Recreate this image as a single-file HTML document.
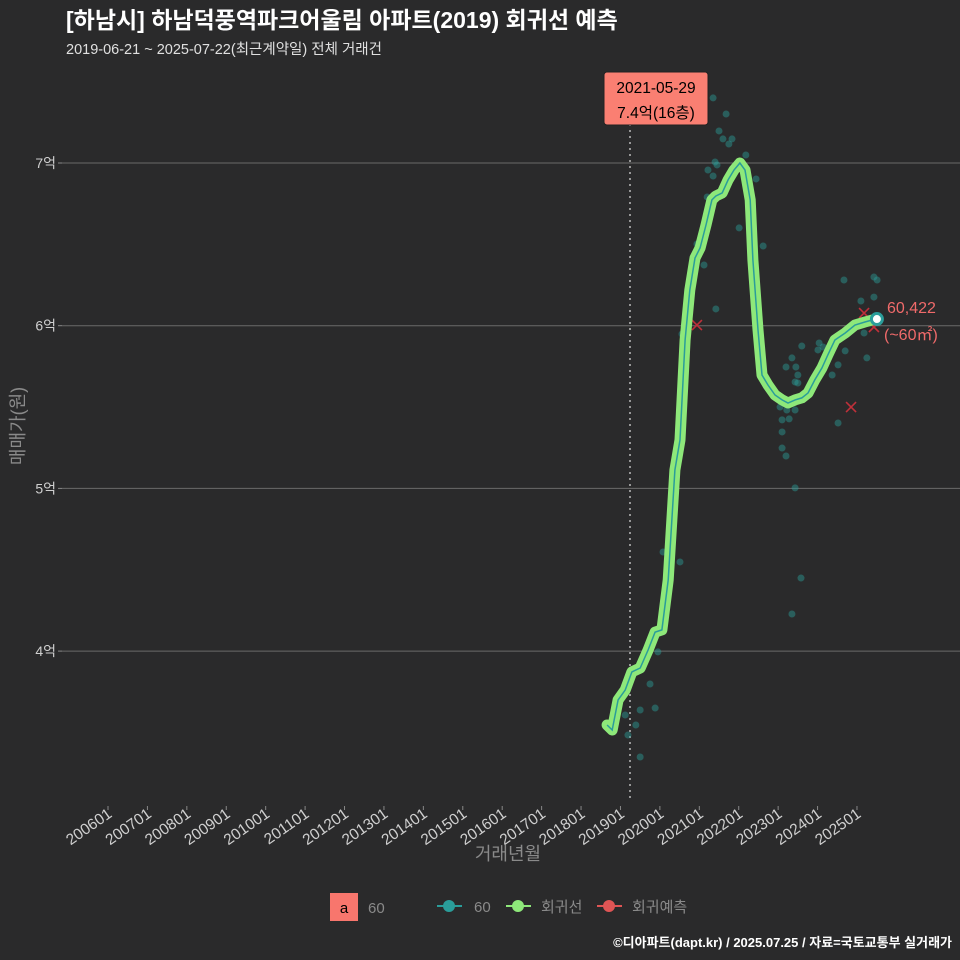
<!DOCTYPE html>
<html><head><meta charset="utf-8"><style>
html,body{margin:0;padding:0;background:#2a2a2b;overflow:hidden;}
svg{display:block;}
svg text{font-family:"Liberation Sans","Noto Sans CJK KR",sans-serif;}
</style></head><body>
<svg id="c" width="960" height="960" viewBox="0 0 960 960" xmlns="http://www.w3.org/2000/svg">
<rect width="960" height="960" fill="#2a2a2b"/>
<text x="66" y="28" font-size="23" font-weight="bold" fill="#fff">[하남시] 하남덕풍역파크어울림 아파트(2019) 회귀선 예측</text>
<text x="66" y="54" font-size="14.5" fill="#e0e0e0">2019-06-21 ~ 2025-07-22(최근계약일) 전체 거래건</text>
<g id="grid"></g><g id="pts"></g><g id="line"></g><g id="ann"></g><g id="axes"></g>
<text x="24" y="426" font-size="18" fill="#8a8a8a" text-anchor="middle" transform="rotate(-90 24 426)">매매가(원)</text>
<text x="508" y="860" font-size="18" fill="#8a8a8a" text-anchor="middle">거래년월</text>
<g>
<rect x="330" y="893" width="28" height="28" fill="#f8766d"/>
<text x="344" y="913" font-size="15" fill="#000" text-anchor="middle">a</text>
<text x="368" y="913" font-size="15" fill="#8a8a8a">60</text>
<line x1="437" y1="906" x2="462" y2="906" stroke="#2a9d9a" stroke-width="2"/><circle cx="449" cy="906" r="6" fill="#2a9d9a"/>
<text x="474" y="912" font-size="15" fill="#8a8a8a">60</text>
<line x1="506" y1="906" x2="531" y2="906" stroke="#8ee87a" stroke-width="2"/><circle cx="518" cy="906" r="6" fill="#8ee87a"/>
<text x="541" y="912" font-size="15" fill="#8a8a8a">회귀선</text>
<line x1="597" y1="906" x2="622" y2="906" stroke="#e05555" stroke-width="2"/><circle cx="609" cy="906" r="6" fill="#e05555"/>
<text x="632" y="912" font-size="15" fill="#8a8a8a">회귀예측</text>
</g>
<text x="952" y="947" font-size="13" font-weight="bold" fill="#fff" text-anchor="end">©디아파트(dapt.kr) / 2025.07.25 / 자료=국토교통부 실거래가</text>
</svg>
<script>
const xTicks=["200601","200701","200801","200901","201001","201101","201201","201301","201401","201501","201601","201701","201801","201901","202001","202101","202201","202301","202401","202501"];
const yTicks=[40000,50000,60000,70000];
const yTickLabels=["4억","5억","6억","7억"];
const lineT=[2018.66,2018.79,2018.94,2019.12,2019.29,2019.50,2019.70,2019.88,2020.05,2020.21,2020.38,2020.51,2020.64,2020.76,2020.89,2021.02,2021.17,2021.32,2021.42,2021.58,2021.73,2021.88,2022.03,2022.16,2022.29,2022.36,2022.49,2022.59,2022.74,2022.92,2023.10,2023.25,2023.43,2023.60,2023.76,2023.93,2024.11,2024.26,2024.44,2024.70,2024.95,2025.20,2025.48];
const lineV=[35460,35150,37000,37610,38720,38960,40070,41170,41300,44370,51130,52980,59120,62190,64160,64780,66190,67730,67970,68160,68960,69570,70000,69570,67730,64040,59740,56970,56360,55740,55440,55250,55440,55560,55870,56670,57400,58200,59120,59550,60040,60230,60410];
const ptT=[2021.35,2021.68,2021.50,2021.60,2021.83,2021.75,2022.18,2021.40,2021.45,2021.22,2021.35,2022.44,2021.20,2022.01,2022.62,2020.94,2021.12,2021.42,2020.56,2024.67,2025.43,2025.51,2025.43,2025.10,2025.18,2025.25,2023.60,2024.04,2024.14,2024.01,2024.70,2024.52,2024.37,2023.35,2023.20,2023.45,2023.50,2023.43,2023.50,2023.05,2023.22,2023.43,2023.10,2023.28,2023.10,2023.10,2023.20,2024.52,2023.43,2023.58,2023.35,2020.08,2020.51,2019.95,2019.75,2019.50,2019.39,2019.50,2019.12,2019.19,2019.88];
const ptV=[74000,73010,71970,71480,71480,71170,70490,70060,69880,69570,69200,69020,67910,66010,64900,65020,63730,61030,59490,62810,62990,62810,61760,61520,59550,58020,58750,58940,58690,58510,58450,57590,56970,58020,57460,57460,56970,56540,56480,55000,54820,54820,54210,54270,53470,52480,51990,54020,50030,44490,42280,46090,45480,39950,37980,36380,35460,33490,36070,34840,36500];
const predT=[2024.85,2025.18,2025.43,2020.94];
const predV=[55000,60780,59920,60040];
const NS="http://www.w3.org/2000/svg";
const X=t=>108+(t-2006)*39.42;
const Y=v=>163+(70000-v)/10000*162.7;
function mk(tag,at,parent){const e=document.createElementNS(NS,tag);for(const k in at)e.setAttribute(k,at[k]);document.getElementById(parent).appendChild(e);return e;}
yTicks.forEach((v,i)=>{
 const g=mk('line',{x1:62,x2:960,y1:Y(v),y2:Y(v),stroke:'#6a6a6a','stroke-width':1},'grid');
 
 
 mk('line',{x1:58,x2:62,y1:Y(v),y2:Y(v),stroke:'#888'},'axes');
 const t=mk('text',{x:56,y:Y(v)+5,'font-size':14,fill:'#cfcfcf','text-anchor':'end'},'axes');
 t.textContent=yTickLabels[i];
 
 
});
xTicks.forEach(s=>{
 const yr=+s.slice(0,4)+(+s.slice(4)-1)/12;const x=X(yr);
 mk('line',{x1:x,x2:x,y1:806,y2:810,stroke:'#888'},'axes');
 const t=mk('text',{x:x+5,y:816,'font-size':15.5,fill:'#cfcfcf','text-anchor':'end',transform:`rotate(-35 ${x+5} 816)`},'axes');
 t.textContent=s;
 
 
});
const vl=mk('line',{x1:630,x2:630,y1:100,y2:800,stroke:'#bbb','stroke-dasharray':'2,4','stroke-width':1.5},'grid');


ptT.forEach((t,i)=>{
 const c=mk('circle',{cx:X(t),cy:Y(ptV[i]),r:3.5,fill:'#2a9d9a','fill-opacity':0.45},'pts');
 
 
});
predT.forEach((t,i)=>{
 const x=X(t),y=Y(predV[i]);
 const p=mk('path',{d:`M${x-5} ${y-5}L${x+5} ${y+5}M${x-5} ${y+5}L${x+5} ${y-5}`,stroke:'#c0303a','stroke-width':1.6},'pts');
 
 
});
const d=lineT.map((t,i)=>(i?'L':'M')+X(t).toFixed(1)+' '+Y(lineV[i]).toFixed(1)).join('');
const l1=mk('path',{d:d,fill:'none',stroke:'#8ee87a','stroke-width':11,'stroke-linejoin':'round','stroke-linecap':'round'},'line');


const l2=mk('path',{d:d,fill:'none',stroke:'#2a9d9a','stroke-width':1.5},'line');


const lx=X(lineT[lineT.length-1]),ly=Y(lineV[lineV.length-1]);
const ec=mk('circle',{cx:lx+1,cy:ly,r:5.5,fill:'#fff',stroke:'#2a9d9a','stroke-width':3},'ann');


const t1=mk('text',{x:887,y:313,'font-size':16,fill:'#f06a6a'},'ann');t1.textContent='60,422';


const t2=mk('text',{x:884,y:340,'font-size':16,fill:'#f06a6a'},'ann');t2.textContent='(~60㎡)';


const bx=mk('rect',{x:604,y:72,width:104,height:53,rx:3,fill:'#fa7f72',stroke:'#222'},'ann');


const a1=mk('text',{x:656,y:93,'font-size':15.5,fill:'#000','text-anchor':'middle'},'ann');a1.textContent='2021-05-29';


const a2=mk('text',{x:656,y:118,'font-size':15.5,fill:'#000','text-anchor':'middle'},'ann');a2.textContent='7.4억(16층)';


</script>
</body></html>
